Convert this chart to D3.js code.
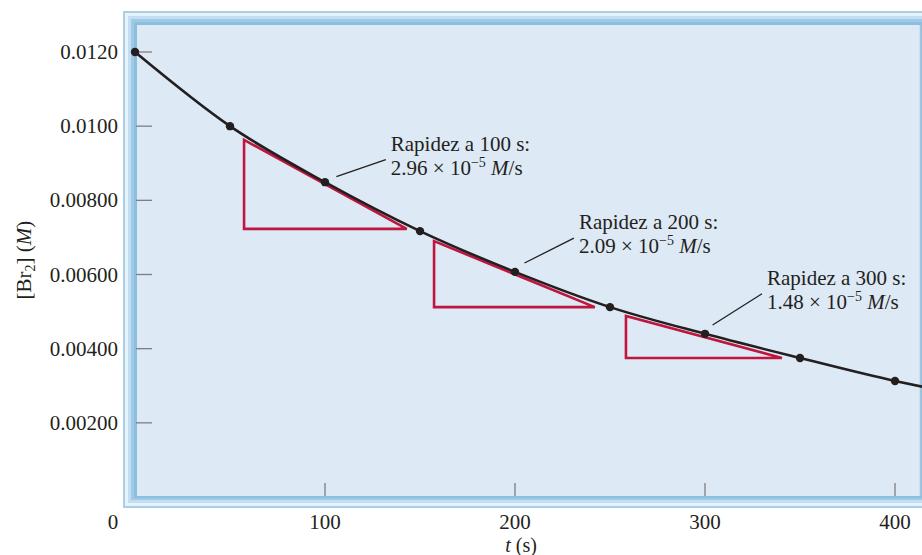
<!DOCTYPE html>
<html><head><meta charset="utf-8">
<script src="https://cdn.jsdelivr.net/npm/d3@7/dist/d3.min.js"></script>
<style>
html,body{margin:0;padding:0;background:#fff;}
svg text{font-family:"Liberation Serif","Times New Roman",serif;fill:#231f20;}
</style></head>
<body><svg id="chart" width="922" height="555"></svg>
<script>
// Data
const times = [0, 50, 100, 150, 200, 250, 300, 350, 400];
const conc = [0.0120, 0.0100, 0.00849, 0.00717, 0.00607, 0.00512, 0.00440, 0.00375, 0.00313];
const curveEnd = {t: 415, c: 0.00297};
const xTicks = [0, 100, 200, 300, 400];
const yTicks = [0.002, 0.004, 0.006, 0.008, 0.010, 0.012];
const yTickLabels = ["0.00200", "0.00400", "0.00600", "0.00800", "0.0100", "0.0120"];
// tangent triangles: [t_left, c_top, t_right, c_bottom]
const triangles = [
  [57.4, 0.00963, 143, 0.00723],
  [157.4, 0.00690, 242, 0.00512],
  [258.4, 0.00488, 340.5, 0.00375]
];
const rateLabels = ["100", "200", "300"];
const rateValues = ["2.96", "2.09", "1.48"];
// leader lines: [t1,c1,t2,c2]
const leaders = [
  [106, 0.00864, 132, 0.00910],
  [205, 0.00631, 231, 0.00698],
  [304, 0.00464, 330, 0.00548]
];

const svg = d3.select("#chart");
const x = d3.scaleLinear().domain([0, 400]).range([135, 895]);
const y = d3.scaleLinear().domain([0, 0.012]).range([497, 52]);

// Frame (bevelled blue border)
const frame = [
  {x0:123, y0:11, x1:940, y1:508, fill:"#a9cee7"},
  {x0:125, y0:13, x1:940, y1:506, fill:"#e8f2fa"},
  {x0:128, y0:16, x1:940, y1:503, fill:"#c3def0"},
  {x0:131, y0:19, x1:940, y1:500, fill:"#9fc9e5"},
  {x0:134, y0:22, x1:940, y1:498, fill:"#8cbfdf"},
  {x0:137, y0:25, x1:920, y1:496, fill:"#dde9f4"}
];
svg.selectAll("rect.frame").data(frame).join("rect")
  .attr("class","frame")
  .attr("x", d=>d.x0).attr("y", d=>d.y0)
  .attr("width", d=>d.x1-d.x0).attr("height", d=>d.y1-d.y0)
  .attr("fill", d=>d.fill);
svg.append("line").attr("x1",920.5).attr("x2",920.5).attr("y1",25).attr("y2",496)
  .attr("stroke","#9cc6e2").attr("stroke-width",1.5);

// Ticks inside
svg.selectAll("line.yt").data(yTicks).join("line")
  .attr("x1",136).attr("x2",152)
  .attr("y1",d=>y(d)).attr("y2",d=>y(d))
  .attr("stroke","#7d7f82").attr("stroke-width",1.3);
svg.selectAll("line.xt").data(xTicks.slice(1)).join("line")
  .attr("x1",d=>x(d)).attr("x2",d=>x(d))
  .attr("y1",483).attr("y2",496)
  .attr("stroke","#7d7f82").attr("stroke-width",1.3);

// Tick labels
svg.selectAll("text.yl").data(yTicks).join("text")
  .attr("x",118).attr("y",d=>y(d)+7)
  .attr("text-anchor","end").attr("font-size",21)
  .text((d,i)=>yTickLabels[i]);
svg.selectAll("text.xl").data(xTicks).join("text")
  .attr("x",d=> d===0 ? 113 : x(d)).attr("y",529)
  .attr("text-anchor","middle").attr("font-size",21)
  .text(d=>d);

// Axis titles
const xt = svg.append("text").attr("x",521).attr("y",552).attr("text-anchor","middle").attr("font-size",20);
xt.append("tspan").attr("font-style","italic").text("t");
xt.append("tspan").text(" (s)");
const yt = svg.append("text").attr("transform","translate(31,260) rotate(-90)")
  .attr("text-anchor","middle").attr("font-size",21);
yt.append("tspan").text("[Br");
yt.append("tspan").attr("font-size",14).attr("dy",4).text("2");
yt.append("tspan").attr("dy",-4).text("] (");
yt.append("tspan").attr("font-style","italic").text("M");
yt.append("tspan").text(")");

// Triangles
svg.selectAll("path.tri").data(triangles).join("path")
  .attr("d", d => `M${x(d[0])},${y(d[1])}L${x(d[0])},${y(d[3])}L${x(d[2])},${y(d[3])}Z`)
  .attr("fill","none").attr("stroke","#c0153f").attr("stroke-width",2.6)
  .attr("stroke-linejoin","miter");

// Curve
const curveData = times.map((t,i)=>({t, c:conc[i]})).concat([curveEnd]);
svg.append("path").datum(curveData)
  .attr("d", d3.line().x(d=>x(d.t)).y(d=>y(d.c)).curve(d3.curveMonotoneX))
  .attr("fill","none").attr("stroke","#231f20").attr("stroke-width",2.6);

// Points
svg.selectAll("circle.pt").data(times).join("circle")
  .attr("cx",d=>x(d)).attr("cy",(d,i)=>y(conc[i])).attr("r",4.2)
  .attr("fill","#231f20");

// Leaders
svg.selectAll("line.ld").data(leaders).join("line")
  .attr("x1",d=>x(d[0])).attr("y1",d=>y(d[1]))
  .attr("x2",d=>x(d[2])).attr("y2",d=>y(d[3]))
  .attr("stroke","#231f20").attr("stroke-width",1.3);

// Annotations
leaders.forEach((d,i)=>{
  const lx = x(d[2]) + 5, ly = y(d[3]);
  svg.append("text").attr("x",lx).attr("y",ly-9).attr("font-size",21)
    .text(`Rapidez a ${rateLabels[i]} s:`);
  const t2 = svg.append("text").attr("x",lx).attr("y",ly+15).attr("font-size",21);
  t2.append("tspan").text(`${rateValues[i]} \u00d7 10`);
  t2.append("tspan").attr("font-size",14).attr("dy",-8).text("\u22125");
  t2.append("tspan").attr("dy",8).attr("font-style","italic").text(" M");
  t2.append("tspan").text("/s");
});
</script></body></html>
